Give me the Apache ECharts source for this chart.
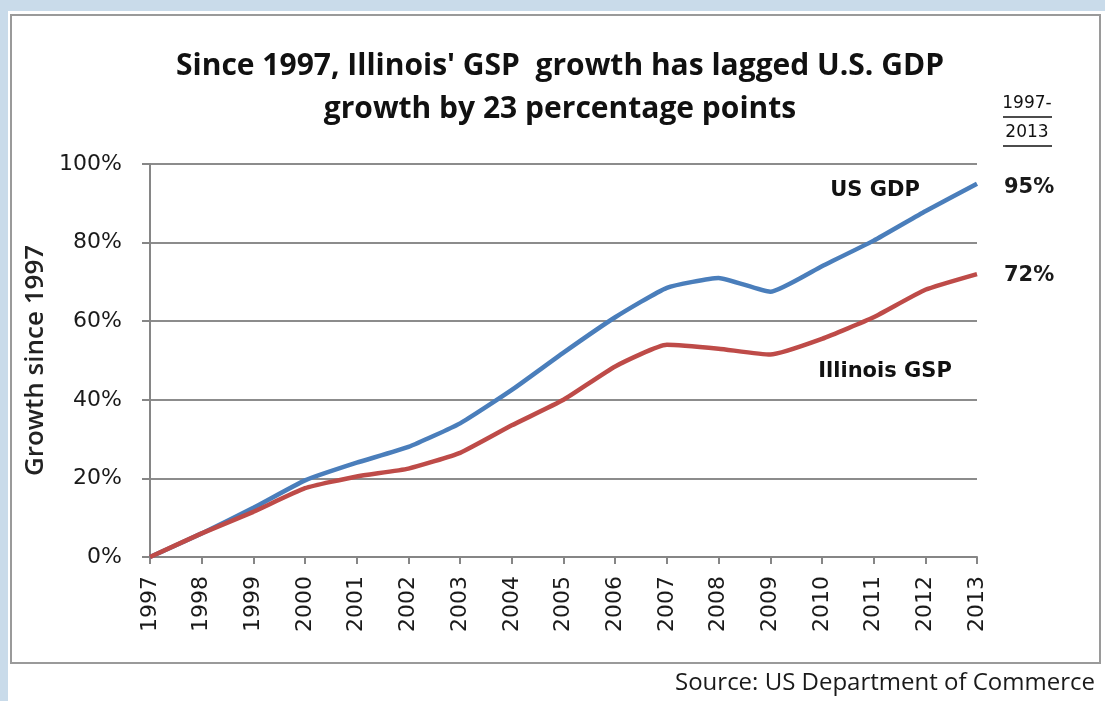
<!DOCTYPE html>
<html><head><meta charset="utf-8">
<script src="https://cdn.jsdelivr.net/npm/echarts@6/dist/echarts.min.js"></script>
<style>html,body{margin:0;padding:0;background:#fff;}#c{width:1105px;height:701px;}</style>
</head><body><div id="c"></div>
<script>
const years = ['1997','1998','1999','2000','2001','2002','2003','2004','2005','2006','2007','2008','2009','2010','2011','2012','2013'];
const usGdp = [0, 6, 12.5, 19.5, 24, 28, 34, 42.5, 52, 61, 68.5, 71, 67.5, 74, 80.5, 88, 95];
const illinoisGsp = [0, 6, 11.5, 17.5, 20.5, 22.5, 26.5, 33.5, 40, 48.5, 54, 53, 51.5, 55.5, 61, 68, 72];
const yTicks = [0, 20, 40, 60, 80, 100];
const titleLines = ["Since 1997, Illinois' GSP  growth has lagged U.S. GDP", "growth by 23 percentage points"];
const seriesNames = ['US GDP', 'Illinois GSP'];
const periodLabel = ['1997-', '2013'];
const sourceText = 'Source: US Department of Commerce';

const FONT = '"Open Sans", sans-serif';
const DV = '"DejaVu Sans", sans-serif';
const chart = echarts.init(document.getElementById('c'));
chart.setOption({
  animation: false,
  backgroundColor: '#ffffff',
  title: {
    text: titleLines.join('\n'),
    left: 555, top: 40, textAlign: 'center',
    textStyle: {fontFamily: FONT, fontSize: 30, fontWeight: 'bold', color: '#111', lineHeight: 43}
  },
  grid: {left: 150, right: 128, top: 164, bottom: 144},
  xAxis: {
    type: 'category', data: years, boundaryGap: false,
    axisLine: {lineStyle: {color: '#868686', width: 2}},
    axisTick: {show: true, length: 7, lineStyle: {color: '#868686', width: 2}},
    axisLabel: {rotate: 90, fontFamily: DV, fontSize: 22, color: '#1a1a1a', margin: 19}
  },
  yAxis: {
    type: 'value', min: 0, max: 100, interval: 20,
    name: 'Growth since 1997', nameLocation: 'middle', nameGap: 98, nameRotate: 90,
    nameTextStyle: {fontFamily: FONT, fontSize: 26, fontWeight: 600, color: '#222'},
    axisLine: {show: true, lineStyle: {color: '#868686', width: 2}},
    axisTick: {show: true, length: 8, lineStyle: {color: '#868686', width: 2}},
    splitLine: {lineStyle: {color: '#8c8c8c', width: 2}},
    axisLabel: {fontFamily: DV, fontSize: 22, color: '#1a1a1a', margin: 28,
      formatter: v => yTicks.includes(v) ? v + '%' : ''}
  },
  series: [
    {name: seriesNames[0], type: 'line', data: usGdp, symbol: 'none', smooth: 0.15,
     lineStyle: {color: '#4a7ebb', width: 4.5}, z: 3,
     endLabel: {show: true, formatter: p => Math.round(p.value) + '%', distance: 27, offset: [0, 4],
       fontFamily: DV, fontSize: 21, color: '#1a1a1a', fontWeight: 'bold'}},
    {name: seriesNames[1], type: 'line', data: illinoisGsp, symbol: 'none', smooth: 0.15,
     lineStyle: {color: '#be4b48', width: 4.5}, z: 4,
     endLabel: {show: true, formatter: p => Math.round(p.value) + '%', distance: 27, offset: [0, 2],
       fontFamily: DV, fontSize: 21, color: '#1a1a1a', fontWeight: 'bold'}}
  ],
  graphic: [
    {type: 'rect', shape: {x: 0, y: 0, width: 1105, height: 11}, style: {fill: '#c9dbea'}, z: -10},
    {type: 'rect', shape: {x: 0, y: 0, width: 8, height: 701}, style: {fill: '#c9dbea'}, z: -10},
    {type: 'rect', shape: {x: 11, y: 15, width: 1089, height: 648}, style: {fill: 'none', stroke: '#9a9a9a', lineWidth: 2}, z: -5},
    {type: 'text', x: 875, y: 191, style: {text: seriesNames[0], font: 'bold 21px ' + DV, fill: '#111', textAlign: 'center', textVerticalAlign: 'middle'}},
    {type: 'text', x: 885, y: 372, style: {text: seriesNames[1], font: 'bold 21px ' + DV, fill: '#111', textAlign: 'center', textVerticalAlign: 'middle'}},
    {type: 'text', x: 1027, y: 104, style: {text: periodLabel[0], font: '17px ' + DV, fill: '#111', textAlign: 'center', textVerticalAlign: 'middle'}},
    {type: 'text', x: 1027, y: 133, style: {text: periodLabel[1], font: '17px ' + DV, fill: '#111', textAlign: 'center', textVerticalAlign: 'middle'}},
    {type: 'line', shape: {x1: 1003, y1: 117, x2: 1052, y2: 117}, style: {stroke: '#111', lineWidth: 1.5}},
    {type: 'line', shape: {x1: 1003, y1: 146, x2: 1052, y2: 146}, style: {stroke: '#111', lineWidth: 1.5}},
    {type: 'text', right: 10, y: 683, style: {text: sourceText, font: '24px ' + FONT, fill: '#1a1a1a', textAlign: 'right', textVerticalAlign: 'middle'}}
  ]
});
</script></body></html>
